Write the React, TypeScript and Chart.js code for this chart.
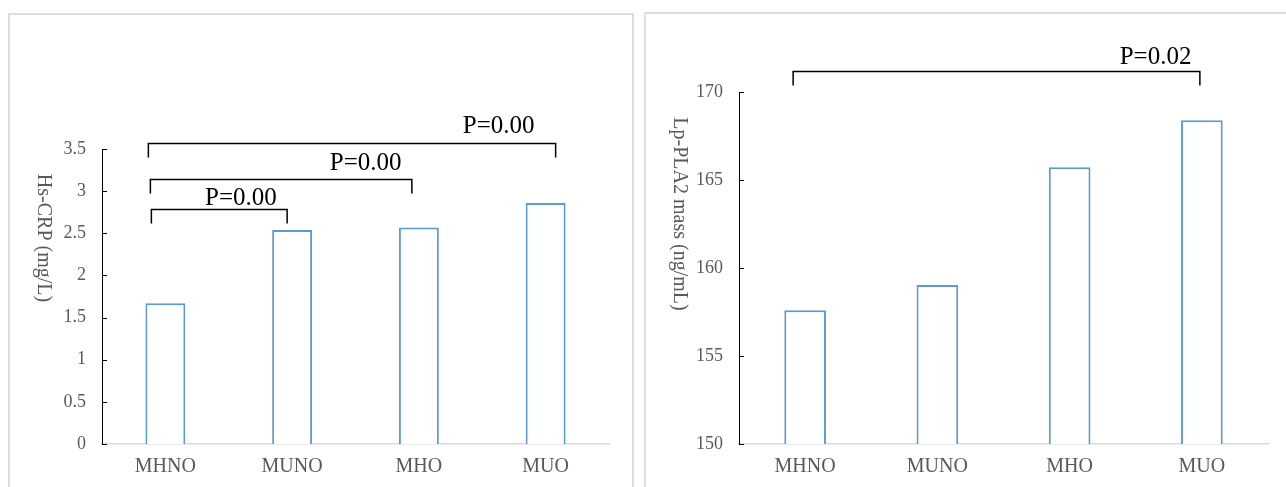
import React, { useEffect, useRef } from "react";
import { Chart, registerables } from "chart.js";

Chart.register(...registerables);

// ---------- data ----------
const categories = ["MHNO", "MUNO", "MHO", "MUO"];

const crpValues = [1.67, 2.54, 2.57, 2.86];
const crpTicks = { min: 0, max: 3.5, step: 0.5 };
const crpTitle = "Hs-CRP (mg/L)";
const crpBracketPairs = [[0, 1], [0, 2], [0, 3]];
const crpBracketLevels = [2.79, 3.14, 3.57];
const crpPLabels = ["P=0.00", "P=0.00", "P=0.00"];

const plaValues = [157.6, 159.03, 165.72, 168.4];
const plaTicks = { min: 150, max: 170, step: 5 };
const plaTitle = "Lp-PLA2 mass (ng/mL)";
const plaBracketPairs = [[0, 3]];
const plaBracketLevels = [171.19];
const plaPLabels = ["P=0.02"];

// ---------- annotation layout (pixels / category offsets) ----------
const crpAnnot = {
  legOffsets: [[-14, -5], [-15, -7], [-17, 10]],
  labelCat: [0.596, 1.58, 2.63],
  labelGap: [5, 10, 11],
};
const plaAnnot = {
  legOffsets: [[-12, -2]],
  labelCat: [2.65],
  labelGap: [8],
};

const SERIF = "Liberation Serif";
const BLUE = "#5B9BD5";
const GRAY = "#595959";

Chart.defaults.font.family = SERIF;

type PanelProps = {
  values: number[];
  ticks: { min: number; max: number; step: number };
  title: string;
  pairs: number[][];
  levels: number[];
  pLabels: string[];
  annot: { legOffsets: number[][]; labelCat: number[]; labelGap: number[] };
  box: { left: number; top: number; width: number; height: number };
  area: { left: number; right: number; top: number; bottom: number };
  titlePos: { x: number; y: number };
};

function Panel(p: PanelProps) {
  const ref = useRef<HTMLCanvasElement | null>(null);
  const cw = p.box.width - 4;
  const ch = p.box.height - 4;

  useEffect(() => {
    if (!ref.current) return;
    const overlay = {
      id: "overlay",
      afterDraw(chart: any) {
        const ctx = chart.ctx;
        const xs = chart.scales.x;
        const ys = chart.scales.y;
        ctx.save();
        // inner tick marks on the y axis
        ctx.strokeStyle = "#000";
        ctx.lineWidth = 1;
        ys.ticks.forEach((t: any) => {
          const py = Math.round(ys.getPixelForValue(t.value)) + 0.5;
          ctx.beginPath();
          ctx.moveTo(xs.left, py);
          ctx.lineTo(xs.left + 5, py);
          ctx.stroke();
        });
        // brackets
        ctx.lineWidth = 1.5;
        ctx.strokeStyle = "#000";
        p.pairs.forEach((pair, i) => {
          const x1 = xs.getPixelForValue(pair[0]) + p.annot.legOffsets[i][0];
          const x2 = xs.getPixelForValue(pair[1]) + p.annot.legOffsets[i][1];
          const yy = Math.round(ys.getPixelForValue(p.levels[i])) + 0.5;
          ctx.beginPath();
          ctx.moveTo(x1, yy + 14);
          ctx.lineTo(x1, yy);
          ctx.lineTo(x2, yy);
          ctx.lineTo(x2, yy + 14);
          ctx.stroke();
          ctx.fillStyle = "#000";
          ctx.font = `25px "${SERIF}"`;
          ctx.textAlign = "center";
          ctx.textBaseline = "alphabetic";
          ctx.fillText(p.pLabels[i], xs.getPixelForValue(p.annot.labelCat[i]), yy - p.annot.labelGap[i]);
        });
        // rotated y title (reads top to bottom)
        ctx.translate(p.titlePos.x, p.titlePos.y);
        ctx.rotate(Math.PI / 2);
        ctx.fillStyle = GRAY;
        ctx.font = `20px "${SERIF}"`;
        ctx.textAlign = "center";
        ctx.textBaseline = "middle";
        ctx.fillText(p.title, 0, 0);
        ctx.restore();
      },
    };

    const chart = new Chart(ref.current, {
      type: "bar",
      data: {
        labels: categories,
        datasets: [
          {
            data: p.values,
            backgroundColor: "#ffffff",
            borderColor: BLUE,
            borderWidth: 2,
            categoryPercentage: 1,
            barPercentage: 0.315,
          },
        ],
      },
      options: {
        animation: false,
        responsive: false,
        devicePixelRatio: 1,
        layout: {
          padding: {
            left: 0,
            top: p.area.top,
            right: cw - p.area.right,
            bottom: 0,
          },
        },
        plugins: {
          legend: { display: false },
          tooltip: { enabled: false },
        },
        scales: {
          x: {
            grid: { display: false, drawTicks: false },
            border: { display: true, color: "#d9d9d9", width: 1.5 },
            ticks: {
              color: GRAY,
              padding: 11,
              font: { family: SERIF, size: 20 },
            },
            afterFit: (s: any) => {
              s.height = ch - p.area.bottom;
            },
          },
          y: {
            min: p.ticks.min,
            max: p.ticks.max,
            grid: { display: false, drawTicks: false },
            border: { display: true, color: "#000", width: 1 },
            ticks: {
              stepSize: p.ticks.step,
              color: GRAY,
              padding: 16,
              font: { family: SERIF, size: 18 },
              callback: (v: any) => String(Math.round(Number(v) * 100) / 100),
            },
            afterFit: (s: any) => {
              s.width = p.area.left;
            },
          },
        },
      },
      plugins: [overlay],
    });
    return () => chart.destroy();
  }, []);

  return (
    <div
      style={{
        position: "absolute",
        left: p.box.left,
        top: p.box.top,
        width: p.box.width - 4,
        height: p.box.height - 4,
        border: "2px solid #dedede",
        background: "#fff",
      }}
    >
      <canvas ref={ref} width={cw} height={ch} style={{ width: cw, height: ch, display: "block" }} />
    </div>
  );
}

export default function App() {
  return (
    <div
      style={{
        position: "fixed",
        left: 0,
        top: 0,
        width: 1286,
        height: 487,
        overflow: "hidden",
        background: "#fff",
      }}
    >
      <Panel
        values={crpValues}
        ticks={crpTicks}
        title={crpTitle}
        pairs={crpBracketPairs}
        levels={crpBracketLevels}
        pLabels={crpPLabels}
        annot={crpAnnot}
        box={{ left: 8, top: 13, width: 626, height: 490 }}
        area={{ left: 92, right: 599, top: 134, bottom: 429 }}
        titlePos={{ x: 33, y: 223 }}
      />
      <Panel
        values={plaValues}
        ticks={plaTicks}
        title={plaTitle}
        pairs={plaBracketPairs}
        levels={plaBracketLevels}
        pLabels={plaPLabels}
        annot={plaAnnot}
        box={{ left: 644, top: 12, width: 660, height: 490 }}
        area={{ left: 93, right: 622, top: 78, bottom: 430 }}
        titlePos={{ x: 33, y: 200 }}
      />
    </div>
  );
}
